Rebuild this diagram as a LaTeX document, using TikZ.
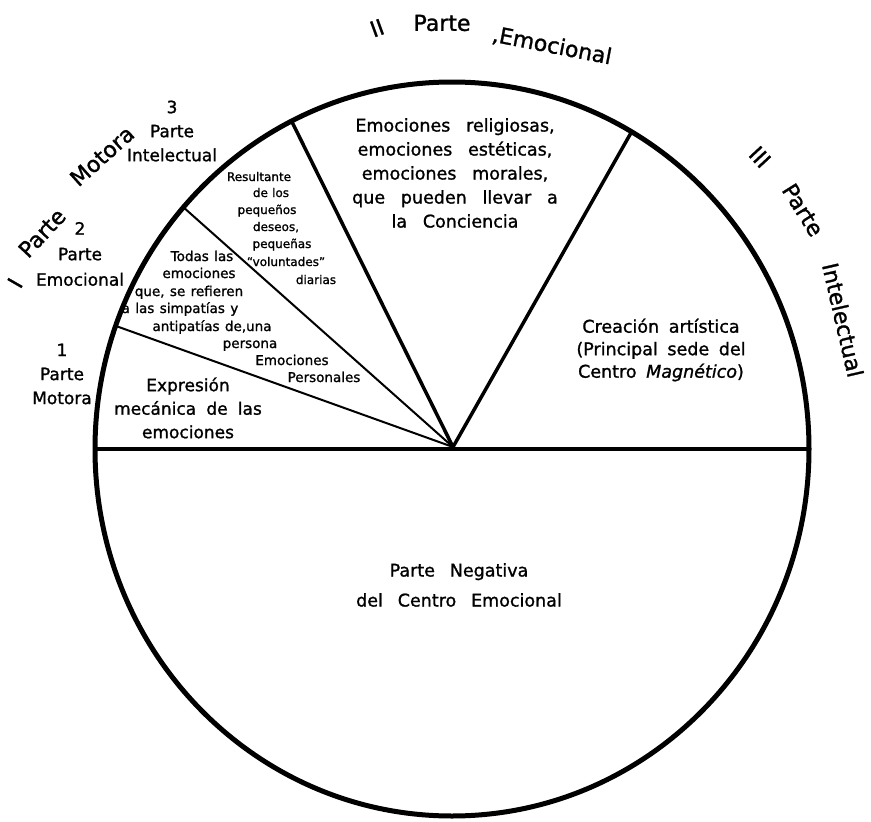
\documentclass[tikz,border=0pt]{standalone}
\usepackage{fontspec}
\setmainfont{DejaVu Sans}[FakeBold=1.2]
\usetikzlibrary{calc}
\begin{document}
\begin{tikzpicture}[x=1pt,y=-1pt,
  rim/.style={line width=5pt},
  diam/.style={line width=4pt},
  bigspoke/.style={line width=3.5pt},
  thinspoke/.style={line width=2pt},
  txt/.style={inner sep=0pt, align=center},
  bodyA/.style={txt, font={\fontsize{17.5}{24}\selectfont\spaceskip=.9em\relax}},
  bodyB/.style={txt, font={\fontsize{17.5}{22.5}\selectfont\spaceskip=.55em\relax}},
  bodyC/.style={txt, font={\fontsize{17}{23.5}\selectfont\spaceskip=.6em\relax}},
  bodyN/.style={txt, font={\fontsize{17.5}{30}\selectfont\spaceskip=.85em\relax}},
  outer/.style={txt, font={\fontsize{17}{24}\selectfont}},
  big/.style={inner sep=0pt, font={\fontsize{22}{26}\selectfont}},
  linesA/.style={inner sep=0pt, anchor=base, font={\fontsize{13.5}{16}\selectfont\spaceskip=.4em\relax}},
  linesB/.style={inner sep=0pt, anchor=base, font={\fontsize{12}{14}\selectfont\spaceskip=.35em\relax}}
]
\useasboundingbox (0,0) rectangle (871,822);
\coordinate (C) at (452,449);
\coordinate (hub) at (453,447);
\coordinate (L) at ($(C)+(-357,0)$);
\coordinate (R) at ($(C)+(357,0)$);
\coordinate (s1) at ($(C)+({357*cos(160.4)},{-367*sin(160.4)})$);
\coordinate (s2) at ($(C)+({357*cos(138.8)},{-367*sin(138.8)})$);
\coordinate (s3) at ($(C)+({357*cos(116.7)},{-367*sin(116.7)})$);
\coordinate (s4) at ($(C)+({357*cos(59.8)},{-367*sin(59.8)})$);

% rim, diameter and spokes
\draw[rim] (C) ellipse [x radius=357, y radius=367];
\draw[diam] (L) -- (R);
\draw[thinspoke] (hub) -- (s1);
\draw[thinspoke] (hub) -- (s2);
\draw[bigspoke] (hub) -- (s3);
\draw[bigspoke] (hub) -- (s4);

% big outer labels
\node[big, rotate=20] (tII) at (377,28) {II};
\node[big] (tParteII) at (442,23) {Parte};
\node[big, rotate=-11] (tEmo) at (552,46) {,Emocional};
\node[big, rotate=-47] (tIII) at (760,157) {III};
\node[big, rotate=-58] (tParteIII) at (803,210) {Parte};
\node[big, rotate=-77] (tInt) at (843,320) {Intelectual};
\node[big, rotate=60] (tI) at (15,283) {I};
\node[big, rotate=47] (tParteI) at (42,233) {Parte};
\node[big, rotate=42] (tMot) at (102,156) {Motora};

% small outer labels
\node[outer] (o3) at (172,131) {3\\Parte\\Intelectual};
\node[outer, font={\fontsize{17}{25.5}\selectfont}] (o2) at (80,254) {2\\Parte\\Emocional};
\node[outer] (o1) at (62,374) {1\\Parte\\Motora};

% sector texts
\node[bodyA] (rel) at (455,173) {Emociones religiosas,\\emociones estéticas,\\emociones morales,\\que pueden llevar a\\la Conciencia};
\node[bodyB] (crea) at (661,350) {Creación artística\\(Principal sede del\\Centro \textit{Magnético})};
\node[bodyC] (expr) at (188,408) {Expresión\\mecánica de las\\emociones};
\node[bodyN] (neg) at (459,585) {Parte Negativa\\del Centro Emocional};

\node[linesA] (t1) at (202,261) {Todas las};
\node[linesA] (t2) at (199,278) {emociones};
\node[linesA] (t3) at (189,296) {que, se refieren};
\node[linesA] (t4) at (180,313) {a las simpatías y};
\node[linesA] (t5) at (212,331) {antipatías de,una};
\node[linesA] (t6) at (250,348) {persona};
\node[linesA] (t7) at (292,365) {Emociones};
\node[linesA] (t8) at (324,382) {Personales};

\node[linesB] (r1) at (259,181) {Resultante};
\node[linesB] (r2) at (271,197) {de los};
\node[linesB] (r3) at (267,214) {pequeños};
\node[linesB] (r4) at (276,231) {deseos,};
\node[linesB] (r5) at (282,248) {pequeñas};
\node[linesB] (r6) at (286,266) {“voluntades”};
\node[linesB] (r7) at (316,284) {diarias};
\end{tikzpicture}
\end{document}
